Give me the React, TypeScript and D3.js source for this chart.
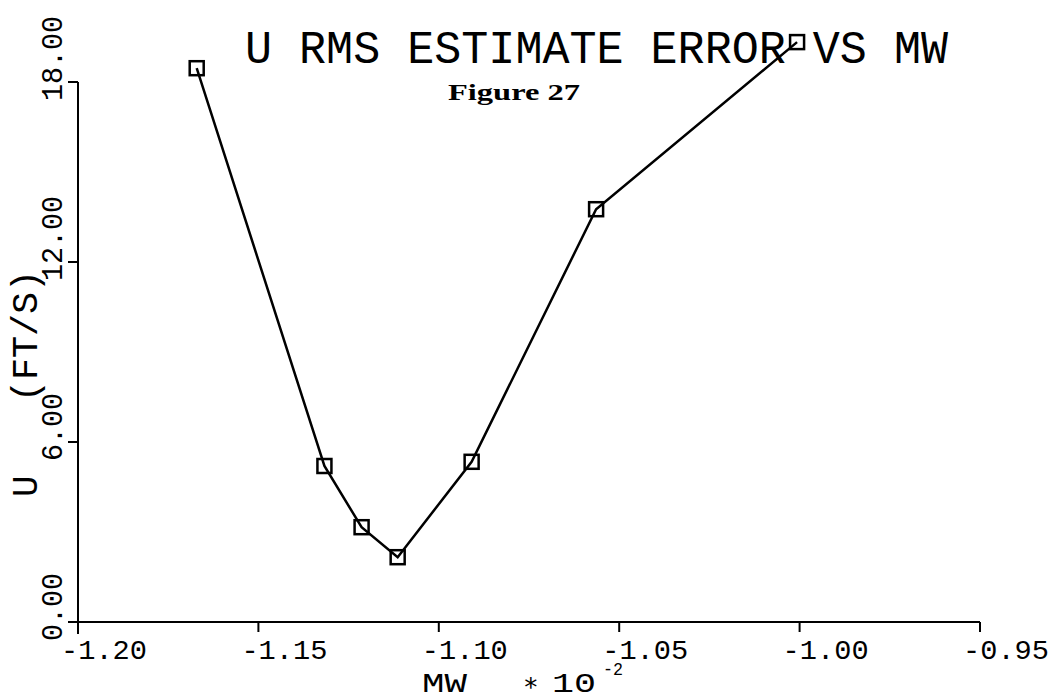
import React from "react";
import * as d3 from "d3";

const mwValues = [-1.1671, -1.1317, -1.1214, -1.1114, -1.0909, -1.0564, -1.0007];
const uErrValues = [18.46, 5.2, 3.16, 2.16, 5.34, 13.76, 19.33];
const xTicks = [-1.2, -1.15, -1.1, -1.05, -1.0, -0.95];
const yTicks = [0, 6, 12, 18];
const titleText = "U RMS ESTIMATE ERROR VS MW";
const subtitleText = "Figure 27";
const yTitleVar = "U";
const yTitleUnit = "(FT/S)";

const W = 1057;
const H = 700;
const plotFont = "'Liberation Mono', 'DejaVu Sans Mono', monospace";

export default function App() {
  const x = d3.scaleLinear().domain([-1.2, -0.95]).range([78, 980]);
  const y = d3.scaleLinear().domain([0, 18]).range([622, 82]);
  const pts = mwValues.map((v, i) => [x(v), y(uErrValues[i])] as [number, number]);
  const line = d3.line<[number, number]>()(pts) || "";
  const ms = 14;
  return (
    <svg
      width={W}
      height={H}
      viewBox={`0 0 ${W} ${H}`}
      style={{ position: "fixed", left: 0, top: 0, background: "#fff" }}
    >
      <rect x={0} y={0} width={W} height={H} fill="#fff" />
      {/* axes */}
      <line x1={x(-1.2)} x2={x(-1.2)} y1={y(18)} y2={y(0) + 12} stroke="#000" strokeWidth={2} />
      <line x1={x(-1.2) - 10} x2={x(-0.95)} y1={y(0)} y2={y(0)} stroke="#000" strokeWidth={2} />
      {yTicks.map((t) => (
        <line key={"yt" + t} x1={x(-1.2) - 10} x2={x(-1.2)} y1={y(t)} y2={y(t)} stroke="#000" strokeWidth={2} />
      ))}
      {xTicks.map((t) => (
        <line key={"xt" + t} x1={x(t)} x2={x(t)} y1={y(0)} y2={y(0) + 10} stroke="#000" strokeWidth={2} />
      ))}
      {xTicks.map((t) => (
        <text
          key={"xl" + t}
          x={x(t) - 17}
          y={y(0) + 37}
          fontFamily={plotFont}
          fontSize={28}
          textLength={86}
          lengthAdjust="spacingAndGlyphs"
          fill="#000"
        >
          {t.toFixed(2)}
        </text>
      ))}
      {yTicks.map((t) => {
        const s = t.toFixed(2);
        return (
          <text
            key={"yl" + t}
            transform={`translate(62,${y(t) + 19}) rotate(-90)`}
            fontFamily={plotFont}
            fontSize={30}
            textLength={s.length * 17}
            lengthAdjust="spacingAndGlyphs"
            fill="#000"
          >
            {s}
          </text>
        );
      })}
      {/* axis titles */}
      <text x={422} y={692} fontFamily={plotFont} fontSize={27} textLength={45} lengthAdjust="spacingAndGlyphs" fill="#000">
        MW
      </text>
      <text x={523} y={691} fontFamily={plotFont} fontSize={26} fill="#000">
        ∗
      </text>
      <text x={552} y={692} fontFamily={plotFont} fontSize={27} textLength={44} lengthAdjust="spacingAndGlyphs" fill="#000">
        10
      </text>
      <text x={603} y={675} fontFamily={plotFont} fontSize={18} textLength={20} lengthAdjust="spacingAndGlyphs" fill="#000">
        -2
      </text>
      <text
        transform={`translate(37,497) rotate(-90)`}
        fontFamily={plotFont}
        fontSize={36}
        fill="#000"
      >
        {yTitleVar}
      </text>
      <text
        transform={`translate(37,402) rotate(-90)`}
        fontFamily={plotFont}
        fontSize={36}
        textLength={132}
        lengthAdjust="spacingAndGlyphs"
        fill="#000"
      >
        {yTitleUnit}
      </text>
      {/* titles */}
      <text x={245} y={63} fontFamily={plotFont} fontSize={46} textLength={703} lengthAdjust="spacingAndGlyphs" fill="#000">
        {titleText}
      </text>
      <text
        x={448}
        y={100}
        fontFamily="'Liberation Serif', 'DejaVu Serif', serif"
        fontWeight="bold"
        fontSize={23}
        textLength={132}
        lengthAdjust="spacingAndGlyphs"
        fill="#000"
      >
        {subtitleText}
      </text>
      {/* data */}
      <path d={line} fill="none" stroke="#000" strokeWidth={2.5} />
      {pts.map(([px, py], i) => (
        <rect
          key={"m" + i}
          x={px - ms / 2}
          y={py - ms / 2}
          width={ms}
          height={ms}
          fill="none"
          stroke="#000"
          strokeWidth={2.5}
        />
      ))}
    </svg>
  );
}
